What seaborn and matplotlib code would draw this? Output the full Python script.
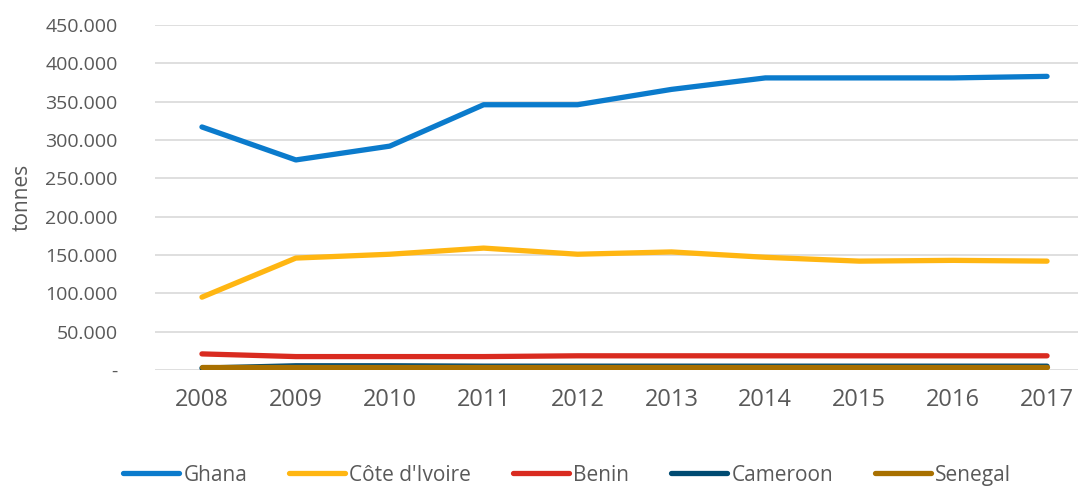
import matplotlib
matplotlib.use("Agg")
import matplotlib.pyplot as plt
import seaborn as sns
import pandas as pd
from matplotlib.ticker import FuncFormatter, MultipleLocator
from matplotlib.lines import Line2D

years = [2008, 2009, 2010, 2011, 2012, 2013, 2014, 2015, 2016, 2017]
ghana = [317000, 274000, 292000, 346000, 346000, 366000, 381000, 381000, 381000, 383000]
cote_divoire = [95000, 146000, 151000, 159000, 151000, 154000, 147000, 142000, 143000, 142000]
benin = [21000, 17500, 17500, 17500, 18500, 18500, 18500, 18500, 18500, 18500]
cameroon = [2500, 5500, 5500, 5000, 5000, 5000, 5000, 5000, 5000, 5000]
senegal = [4500, 4500, 4500, 4500, 4500, 4500, 4500, 4500, 4500, 4500]
countries = ["Ghana", "Côte d'Ivoire", "Benin", "Cameroon", "Senegal"]
colors = ["#0B7BCC", "#FFB612", "#D92B20", "#004B72", "#A87000"]

series = [ghana, cote_divoire, benin, cameroon, senegal]
rows = []
for name, vals in zip(countries, series):
    for i, v in enumerate(vals):
        rows.append({"idx": i, "year": years[i], "country": name, "value": v})
df = pd.DataFrame(rows)

sns.set_theme(style="white")
plt.rcParams["font.family"] = ["Open Sans", "DejaVu Sans"]

fig = plt.figure(figsize=(10.78, 4.86), dpi=100)
ax = fig.add_axes([155 / 1078, 116 / 486, (1094 - 155) / 1078, 345 / 486])

sns.lineplot(data=df, x="idx", y="value", hue="country", hue_order=countries,
             palette=colors, linewidth=3.8, ax=ax, legend=False,
             solid_capstyle="round")

ax.set_xlim(-0.5, len(years) - 0.5)
ax.set_ylim(0, 450000)
ax.yaxis.set_major_locator(MultipleLocator(50000))
ax.set_xticks(range(len(years)))
ax.set_xticklabels([str(y) for y in years])

def fmt(v, pos):
    if v == 0:
        return "-"
    return f"{int(v):,}".replace(",", ".")

ax.yaxis.set_major_formatter(FuncFormatter(fmt))
ax.grid(axis="y", color="#D9D9D9", linewidth=1.2)
ax.grid(axis="x", visible=False)
ax.set_axisbelow(True)
for s in ax.spines.values():
    s.set_visible(False)
ax.tick_params(axis="y", labelsize=14, colors="#595959", length=0, pad=27)
ax.tick_params(axis="x", labelsize=17, colors="#595959", length=0, pad=13)
ax.set_xlabel("")
ax.set_ylabel("tonnes", fontsize=15, color="#595959")
ax.yaxis.set_label_coords(-0.13, 0.5)

handles = [Line2D([0], [0], color=c, linewidth=3.8, solid_capstyle="round") for c in colors]
fig.legend(handles, countries, loc="center", bbox_to_anchor=(567 / 1078, 1 - 475 / 486),
           ncol=5, frameon=False, fontsize=15, labelcolor="#595959",
           handlelength=2.7, handletextpad=0.2, columnspacing=2.0)

fig.savefig("out.png", dpi=100)
